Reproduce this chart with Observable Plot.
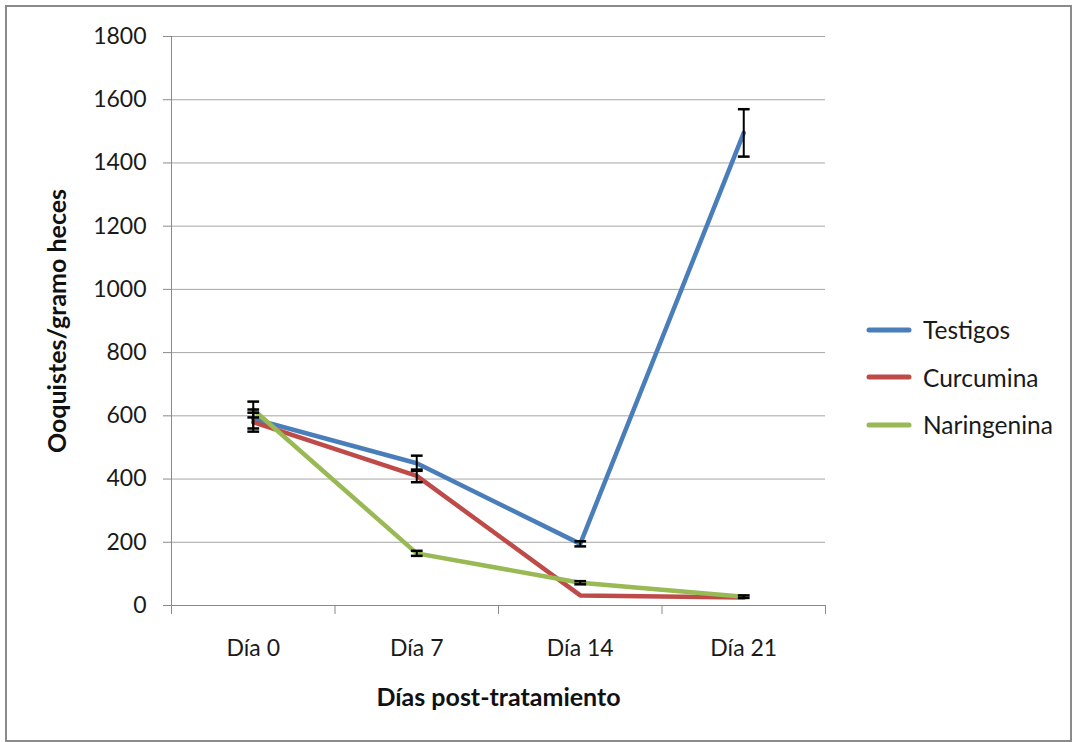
<!DOCTYPE html>
<html>
<head>
<meta charset="utf-8">
<script src="https://cdn.jsdelivr.net/npm/d3@7"></script>
<script src="https://cdn.jsdelivr.net/npm/@observablehq/plot@0.6"></script>
<style>
  html, body { margin: 0; padding: 0; background: #fff; }
  #wrap { position: relative; width: 1073px; height: 742px; overflow: hidden; font-family: Lato, "Open Sans", sans-serif; }
  #frame { position: absolute; left: 5px; top: 5px; width: 1063px; height: 733px; border: 2px solid #8a8a8a; pointer-events: none; }
  #legend { position: absolute; left: 866px; top: 306px; font-size: 24.5px; color: #1a1a1a; }
  .item { display: flex; align-items: center; height: 47.5px; }
  .item svg { margin-right: 11px; }
</style>
</head>
<body>
<div id="wrap">
  <div id="chart"></div>
  <div id="legend"></div>
  <div id="frame"></div>
</div>
<script>
const categories = ["Día 0", "Día 7", "Día 14", "Día 21"];
const seriesNames = ["Testigos", "Curcumina", "Naringenina"];
const colors = ["#4a7ebb", "#be4b48", "#98b954"];
const testigos = [590, 450, 195, 1495];
const testigosErr = [30, 24, 8, 75];
const curcumina = [580, 410, 32, 25];
const curcuminaErr = [30, 20, 0, 0];
const naringenina = [620, 165, 72, 28];
const naringeninaErr = [25, 8, 5, 4];
const yTicks = [0, 200, 400, 600, 800, 1000, 1200, 1400, 1600, 1800];

const values = [testigos, curcumina, naringenina];
const errs = [testigosErr, curcuminaErr, naringeninaErr];
const rows = [];
seriesNames.forEach((s, si) => {
  categories.forEach((c, ci) => {
    rows.push({series: s, pos: ci + 0.5, value: values[si][ci], err: errs[si][ci]});
  });
});
const errRows = rows.filter(d => d.err > 0);
const capW = 0.036;
const boundaries = d3.range(categories.length + 1);

const chart = Plot.plot({
  width: 1073,
  height: 742,
  marginLeft: 171,
  marginRight: 248,
  marginTop: 36,
  marginBottom: 137,
  style: {fontFamily: "Lato, 'Open Sans', sans-serif", fontSize: "23px", color: "#1a1a1a", background: "transparent"},
  x: {type: "linear", domain: [0, categories.length]},
  y: {domain: [0, 1800]},
  color: {domain: seriesNames, range: colors},
  marks: [
    Plot.gridY(yTicks, {stroke: "#a6a6a6", strokeOpacity: 1, strokeWidth: 1}),
    Plot.ruleX([0], {stroke: "#8a8a8a", strokeWidth: 1}),
    Plot.ruleY([0], {stroke: "#8a8a8a", strokeWidth: 1}),
    Plot.axisY(yTicks, {tickSize: 8, tickPadding: 17, stroke: "#8a8a8a", fontSize: 23, tickFormat: d3.format("d"), label: null}),
    Plot.axisX(boundaries, {tickSize: 9, tickFormat: () => "", stroke: "#8a8a8a", label: null}),
    Plot.axisX(categories.map((c, i) => i + 0.5), {tickSize: 0, tickPadding: 34, tickFormat: (d) => categories[Math.floor(d)], fontSize: 23, label: null}),
    Plot.line(rows, {x: "pos", y: "value", z: "series", stroke: "series", strokeWidth: 4.5, strokeLinejoin: "round", strokeLinecap: "round"}),
    Plot.ruleX(errRows, {x: "pos", y1: d => d.value - d.err, y2: d => d.value + d.err, stroke: "#000", strokeWidth: 2}),
    Plot.link(errRows, {x1: d => d.pos - capW, x2: d => d.pos + capW, y1: d => d.value - d.err, y2: d => d.value - d.err, stroke: "#000", strokeWidth: 2.5}),
    Plot.link(errRows, {x1: d => d.pos - capW, x2: d => d.pos + capW, y1: d => d.value + d.err, y2: d => d.value + d.err, stroke: "#000", strokeWidth: 2.5}),
    Plot.text(["Ooquistes/gramo heces"], {frameAnchor: "left", textAnchor: "middle", rotate: -90, dx: -114, fontWeight: "bold", fontSize: 25, fill: "#111"}),
    Plot.text(["Días post-tratamiento"], {frameAnchor: "bottom", textAnchor: "middle", dy: 100, fontWeight: "bold", fontSize: 25, fill: "#111"})
  ]
});
document.getElementById("chart").appendChild(chart);

const legend = document.getElementById("legend");
seriesNames.forEach((s, i) => {
  const item = document.createElement("div");
  item.className = "item";
  item.innerHTML = `<svg width="46" height="10"><line x1="3" y1="5" x2="43" y2="5" stroke="${colors[i]}" stroke-width="5" stroke-linecap="round"/></svg><span>${s}</span>`;
  legend.appendChild(item);
});
</script>
</body>
</html>
